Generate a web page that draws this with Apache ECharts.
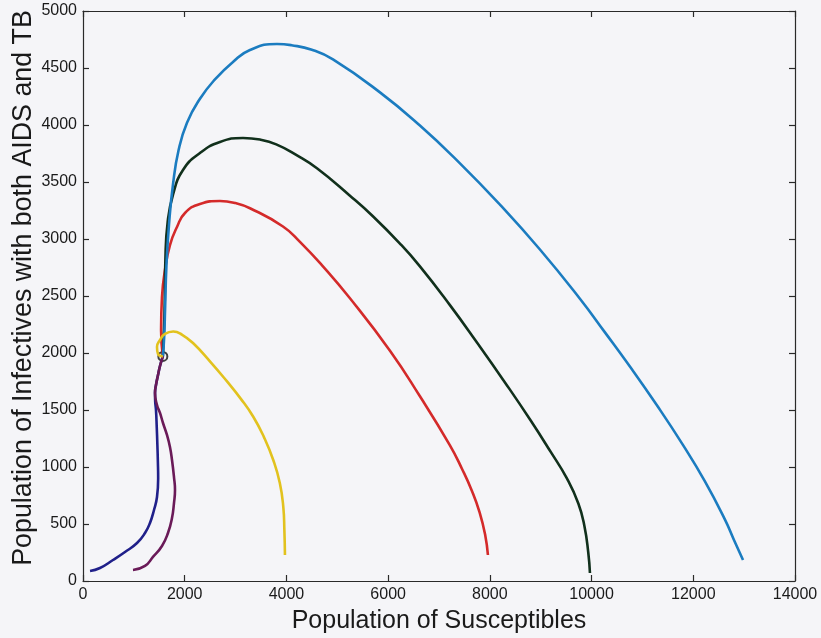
<!DOCTYPE html>
<html>
<head>
<meta charset="utf-8">
<script src="https://cdn.jsdelivr.net/npm/echarts@6/dist/echarts.min.js"></script>
<style>
html,body{margin:0;padding:0;background:#f5f5f8;}
#chart{width:821px;height:638px;}
</style>
</head>
<body>
<div id="chart"></div>
<script>
// Axis settings
const xTicks = [0, 2000, 4000, 6000, 8000, 10000, 12000, 14000];
const yTicks = [0, 500, 1000, 1500, 2000, 2500, 3000, 3500, 4000, 4500, 5000];
const xTitle = 'Population of Susceptibles';
const yTitle = 'Population of Infectives with both AIDS and TB';

// Equilibrium point [S, I]
const equilibrium = [1570, 1970];

// Trajectories [S, I], from start to equilibrium
const blueTraj = [[12978,184],[12800,360],[12623,539],[12229,874],[11796,1194],[11285,1541],[10754,1881],[10263,2181],[9771,2476],[8985,2908],[8198,3302],[7412,3664],[6625,3995],[5839,4286],[4915,4575],[4500,4660],[4100,4700],[3814,4711],[3283,4658],[2949,4553],[2595,4400],[2300,4230],[2045,4020],[1880,3780],[1770,3480],[1690,3120],[1640,2760],[1615,2400],[1595,2130],[1570,1970]];
const greenTraj = [[9968,70],[9935,250],[9860,480],[9740,680],[9515,900],[9200,1130],[8800,1410],[8300,1740],[7750,2090],[7215,2420],[6625,2760],[6232,2960],[5700,3200],[5249,3380],[4600,3620],[4200,3735],[3800,3830],[3480,3872],[3146,3886],[2693,3851],[2300,3754],[1966,3605],[1770,3390],[1665,3150],[1620,2820],[1608,2470],[1592,2202],[1570,1970]];
const redTraj = [[7962,228],[7910,400],[7800,600],[7648,790],[7451,985],[7215,1190],[6625,1620],[6036,2020],[5249,2480],[4718,2760],[4266,2975],[3932,3110],[3283,3270],[3000,3315],[2693,3333],[2300,3307],[2005,3228],[1848,3105],[1710,2947],[1612,2728],[1553,2491],[1535,2202],[1570,1970]];
const yellowTraj = [[3971,228],[3960,440],[3938,652],[3870,860],[3741,1061],[3560,1260],[3348,1441],[3100,1600],[2824,1755],[2500,1925],[2168,2085],[1950,2160],[1775,2188],[1612,2167],[1514,2114],[1455,2053],[1475,1991],[1570,1970]];
const purpleTraj = [[983,96],[1219,132],[1376,211],[1553,307],[1671,421],[1750,553],[1789,684],[1809,798],[1789,912],[1750,1061],[1710,1175],[1651,1281],[1573,1386],[1514,1474],[1455,1544],[1416,1649],[1435,1719],[1475,1807],[1514,1886],[1570,1970]];
const navyTraj = [[138,88],[334,114],[590,184],[826,254],[1062,333],[1219,421],[1317,509],[1396,623],[1455,737],[1478,900],[1472,1050],[1462,1200],[1450,1350],[1435,1500],[1420,1570],[1416,1649],[1435,1719],[1475,1807],[1514,1886],[1570,1970]];

const FONT = 'Liberation Sans';
const chart = echarts.init(document.getElementById('chart'), null, {renderer: 'canvas'});

function line(data, color) {
  return {
    type: 'line', data: data, showSymbol: false, smooth: 0.5,
    lineStyle: {color: color, width: 2.6}, xAxisIndex: 0, yAxisIndex: 0,
    silent: true, animation: false
  };
}

const lineCol = {color: '#2a2a2a', width: 1.2};
const axisLineStyle = {show: true, onZero: false, lineStyle: lineCol};
const tickStyle = {show: true, inside: true, length: 6, lineStyle: lineCol};
const fmt = v => String(v);

chart.setOption({
  backgroundColor: '#f5f5f8',
  animation: false,
  grid: {left: 83, right: 26, top: 11, bottom: 57, containLabel: false, outerBoundsMode: 'none'},
  xAxis: [
    {type: 'value', min: xTicks[0], max: xTicks[xTicks.length-1], interval: 2000,
     position: 'bottom', name: xTitle, nameLocation: 'middle', nameGap: 28, nameMoveOverlap: false,
     nameTextStyle: {fontFamily: FONT, fontSize: 25, color: '#1a1a1a'},
     axisLine: axisLineStyle, axisTick: tickStyle, splitLine: {show: false},
     axisLabel: {fontFamily: FONT, fontSize: 16, color: '#1a1a1a', margin: 6, formatter: fmt}},
    {type: 'value', min: xTicks[0], max: xTicks[xTicks.length-1], interval: 2000,
     position: 'top', axisLine: axisLineStyle, axisTick: tickStyle,
     axisLabel: {show: false}, splitLine: {show: false}}
  ],
  yAxis: [
    {type: 'value', min: yTicks[0], max: yTicks[yTicks.length-1], interval: 500,
     position: 'left', name: yTitle, nameLocation: 'middle', nameGap: 46, nameMoveOverlap: false,
     nameTextStyle: {fontFamily: FONT, fontSize: 26.8, color: '#1a1a1a', padding: [0, 0, 0, 16]},
     axisLine: axisLineStyle, axisTick: tickStyle, splitLine: {show: false},
     axisLabel: {fontFamily: FONT, fontSize: 16, color: '#1a1a1a', margin: 6, formatter: fmt}},
    {type: 'value', min: yTicks[0], max: yTicks[yTicks.length-1], interval: 500,
     position: 'right', axisLine: axisLineStyle, axisTick: tickStyle,
     axisLabel: {show: false}, splitLine: {show: false}}
  ],
  series: [
    line(redTraj, '#d42a2a'),
    line(greenTraj, '#11301c'),
    line(blueTraj, '#1b7cc0'),
    line(navyTraj, '#20208a'),
    line(purpleTraj, '#6a1a58'),
    line(yellowTraj, '#e2c21e'),
    {type: 'scatter', data: [equilibrium], symbol: 'circle', symbolSize: 9,
     itemStyle: {color: 'rgba(0,0,0,0)', borderColor: '#111', borderWidth: 2}, silent: true}
  ]
});
</script>
</body>
</html>
